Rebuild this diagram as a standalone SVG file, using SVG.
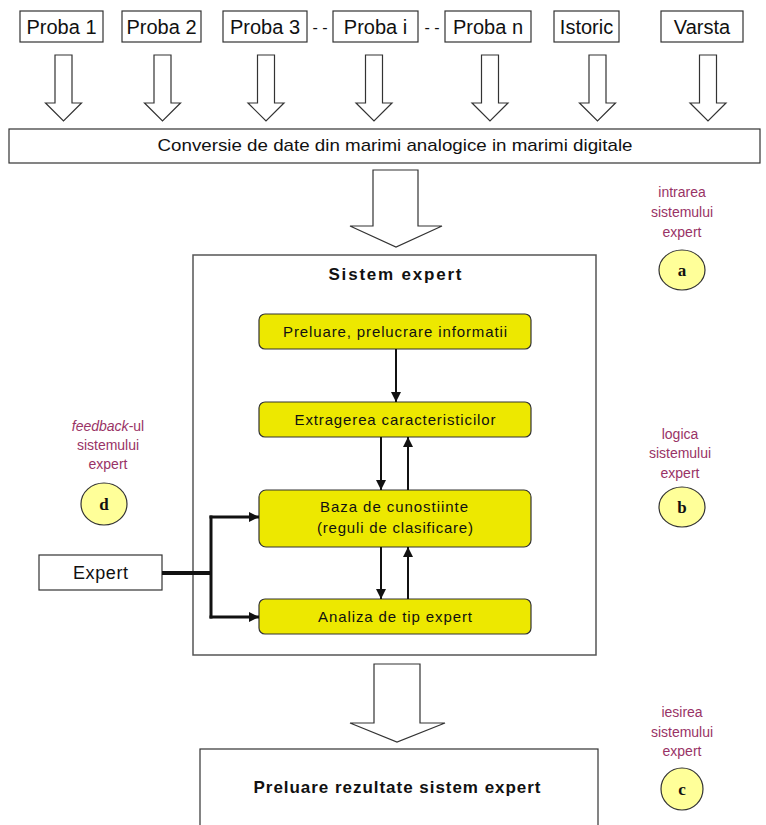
<svg xmlns="http://www.w3.org/2000/svg" width="766" height="825" viewBox="0 0 766 825">
  <style>
    .box { fill: #ffffff; stroke: #333333; stroke-width: 1.2; }
    .frame { fill: #ffffff; stroke: #555555; stroke-width: 1.5; }
    .step { fill: #ede800; stroke: #333333; stroke-width: 1.2; }
    .blk { fill: #ffffff; stroke: #333333; stroke-width: 1.2; stroke-linejoin: miter; }
    .badge { fill: #ffff99; stroke: #333333; stroke-width: 1.2; }
    .t { font-family: "Liberation Sans", Arial, sans-serif; fill: #111111; text-anchor: middle; }
    .top { font-size: 20px; }
    .mid { font-size: 15px; }
    .hd { font-size: 17px; font-weight: bold; }
    .note { font-family: "Liberation Sans", Arial, sans-serif; font-size: 14px; fill: #993366; text-anchor: middle; }
    .ltr { font-family: "Liberation Serif", "Times New Roman", serif; font-size: 17px; font-weight: bold; fill: #111111; text-anchor: middle; }
    .flow { fill: none; stroke: #111111; stroke-width: 2; }
    .feed { fill: none; stroke: #111111; stroke-width: 3; }
  </style>
  <defs>
    <marker id="ah" viewBox="0 0 10 10" refX="10" refY="5" markerWidth="10" markerHeight="10" markerUnits="userSpaceOnUse" orient="auto">
      <path d="M0,0 L10,5 L0,10 Z" fill="#111111"/>
    </marker>
  </defs>

  <!-- input sources -->
  <g id="proba1"><rect class="box" x="20" y="11" width="83" height="31"/><text class="t top" x="61.5" y="34">Proba 1</text></g>
  <g id="proba2"><rect class="box" x="122" y="11" width="79" height="31"/><text class="t top" x="161.5" y="34">Proba 2</text></g>
  <g id="proba3"><rect class="box" x="223" y="11" width="84" height="31"/><text class="t top" x="265" y="34">Proba 3</text></g>
  <text class="t" x="320" y="33" font-size="16">- -</text>
  <g id="probai"><rect class="box" x="333" y="11" width="85" height="31"/><text class="t top" x="375.5" y="34">Proba i</text></g>
  <text class="t" x="432" y="33" font-size="16">- -</text>
  <g id="proban"><rect class="box" x="445" y="11" width="86" height="31"/><text class="t top" x="488" y="34">Proba n</text></g>
  <g id="istoric"><rect class="box" x="554" y="11" width="65" height="31"/><text class="t top" x="586.5" y="34">Istoric</text></g>
  <g id="varsta"><rect class="box" x="661" y="11" width="82" height="31"/><text class="t top" x="702" y="34">Varsta</text></g>

  <!-- A/D conversion -->
  <g id="conversie">
    <rect class="box" x="9" y="129" width="751" height="34"/>
    <text class="t" x="395" y="151" font-size="17" textLength="475" lengthAdjust="spacingAndGlyphs">Conversie de date din marimi analogice in marimi digitale</text>
  </g>

  <!-- expert system frame -->
  <g id="sistem-expert">
    <rect class="frame" x="193" y="255" width="403" height="400"/>
    <text class="t hd" x="395" y="280" textLength="133" lengthAdjust="spacing">Sistem expert</text>
  </g>

  <g id="preluare">
    <rect class="step" x="259" y="314" width="272" height="35" rx="6"/>
    <text class="t mid" x="395" y="337" textLength="224" lengthAdjust="spacing">Preluare, prelucrare informatii</text>
  </g>
  <g id="extragere">
    <rect class="step" x="259" y="402" width="272" height="35" rx="6"/>
    <text class="t mid" x="395" y="425" textLength="201" lengthAdjust="spacing">Extragerea caracteristicilor</text>
  </g>
  <g id="baza">
    <rect class="step" x="259" y="490" width="272" height="57" rx="7"/>
    <text class="t mid" x="394" y="512" textLength="148" lengthAdjust="spacing">Baza de cunostiinte</text>
    <text class="t mid" x="395" y="533" textLength="156" lengthAdjust="spacing">(reguli de clasificare)</text>
  </g>
  <g id="analiza">
    <rect class="step" x="259" y="599" width="272" height="35" rx="6"/>
    <text class="t mid" x="395" y="622" textLength="154" lengthAdjust="spacing">Analiza de tip expert</text>
  </g>

  <g id="expert">
    <rect class="box" x="39" y="555" width="123" height="35"/>
    <text class="t" x="100.5" y="579" font-size="18" textLength="55" lengthAdjust="spacing">Expert</text>
  </g>

  <!-- results -->
  <g id="rezultate">
    <rect class="box" x="200" y="749" width="398" height="90"/>
    <text class="t hd" x="397" y="793" textLength="287" lengthAdjust="spacing">Preluare rezultate sistem expert</text>
  </g>

  <!-- stage markers -->
  <g id="marker-a">
    <text class="note" x="682" y="197">intrarea</text>
    <text class="note" x="682" y="217">sistemului</text>
    <text class="note" x="682" y="237">expert</text>
    <ellipse class="badge" cx="682" cy="270" rx="23" ry="20"/>
    <text class="ltr" x="682" y="276">a</text>
  </g>
  <g id="marker-b">
    <text class="note" x="680" y="439">logica</text>
    <text class="note" x="680" y="458">sistemului</text>
    <text class="note" x="680" y="478">expert</text>
    <ellipse class="badge" cx="682" cy="507" rx="23" ry="20"/>
    <text class="ltr" x="682" y="513">b</text>
  </g>
  <g id="marker-c">
    <text class="note" x="682" y="717">iesirea</text>
    <text class="note" x="682" y="737">sistemului</text>
    <text class="note" x="682" y="756">expert</text>
    <ellipse class="badge" cx="682" cy="789" rx="21" ry="21"/>
    <text class="ltr" x="682" y="795" font-family="Liberation Sans, Arial, sans-serif" font-size="15">c</text>
  </g>
  <g id="marker-d">
    <text class="note" x="108" y="431"><tspan font-style="italic">feedback</tspan>-ul</text>
    <text class="note" x="108" y="450">sistemului</text>
    <text class="note" x="108" y="469">expert</text>
    <ellipse class="badge" cx="104" cy="504" rx="23" ry="21"/>
    <text class="ltr" x="104" y="510">d</text>
  </g>

  <!-- connectors -->
  <g id="connectors">
    <!-- block arrows: sources into conversion -->
    <polygon class="blk" points="55,55 72,55 72,103 81.5,103 63.5,121 45.5,103 55,103"/>
    <polygon class="blk" points="154,55 171,55 171,103 180.5,103 162.5,121 144.5,103 154,103"/>
    <polygon class="blk" points="257.5,55 274.5,55 274.5,103 284,103 266,121 248,103 257.5,103"/>
    <polygon class="blk" points="365.5,55 382.5,55 382.5,103 392,103 374,121 356,103 365.5,103"/>
    <polygon class="blk" points="481.5,55 498.5,55 498.5,103 508,103 490,121 472,103 481.5,103"/>
    <polygon class="blk" points="589,55 606,55 606,103 615.5,103 597.5,121 579.5,103 589,103"/>
    <polygon class="blk" points="699.5,55 716.5,55 716.5,103 726,103 708,121 690,103 699.5,103"/>
    <!-- conversion into expert system -->
    <polygon class="blk" points="373,170 418,170 418,226 442,226 396,247 350,226 373,226"/>
    <!-- expert system into results -->
    <polygon class="blk" points="374,664 420,664 420,723 445,723 397,742 350,723 374,723"/>

    <!-- internal flow -->
    <line class="flow" x1="396" y1="349" x2="396" y2="402" marker-end="url(#ah)"/>
    <line class="flow" x1="381" y1="437" x2="381" y2="490" marker-end="url(#ah)"/>
    <line class="flow" x1="408" y1="490" x2="408" y2="437" marker-end="url(#ah)"/>
    <line class="flow" x1="381" y1="547" x2="381" y2="599" marker-end="url(#ah)"/>
    <line class="flow" x1="408" y1="599" x2="408" y2="547" marker-end="url(#ah)"/>

    <!-- expert input to knowledge base and analysis -->
    <line x1="162" y1="573" x2="211" y2="573" stroke="#111111" stroke-width="4"/>
    <line class="feed" x1="211" y1="515.5" x2="211" y2="618.5"/>
    <line class="feed" x1="209.5" y1="517" x2="259" y2="517" marker-end="url(#ah)"/>
    <line class="feed" x1="209.5" y1="617" x2="259" y2="617" marker-end="url(#ah)"/>
  </g>
</svg>
